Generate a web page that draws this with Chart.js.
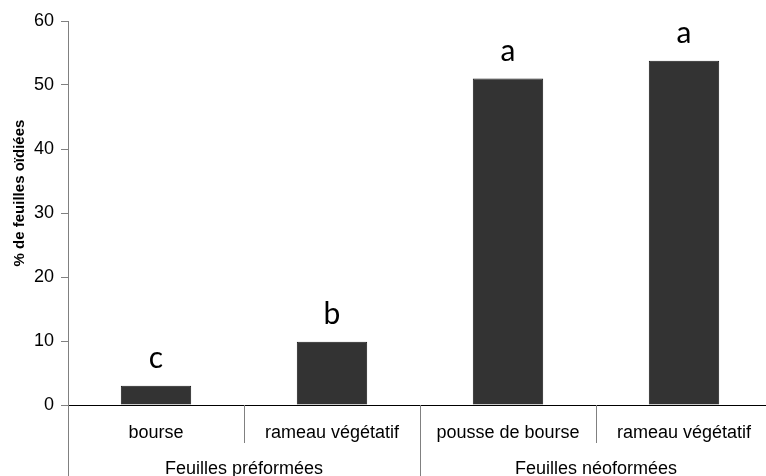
<!DOCTYPE html>
<html>
<head>
<meta charset="utf-8">
<script src="https://cdn.jsdelivr.net/npm/chart.js@4/dist/chart.umd.min.js"></script>
<style>
  html, body { margin: 0; padding: 0; background: #fff; overflow: hidden; }
  #wrap { width: 766px; height: 476px; overflow: hidden; }
  #c { display: block; }
</style>
</head>
<body>
<div id="wrap"><canvas id="c" width="772" height="476"></canvas></div>
<script>
// Leaf types, grouped by leaf origin
const categories = ['bourse', 'rameau végétatif', 'pousse de bourse', 'rameau végétatif'];
const groups = ['Feuilles préformées', 'Feuilles néoformées'];
const groupSizes = [2, 2];
// Percentage of leaves with powdery mildew
const values = [3.0, 9.9, 51.0, 53.8];
// Significance letters above each bar
const letters = ['c', 'b', 'a', 'a'];
const yTicks = [0, 10, 20, 30, 40, 50, 60];
const yTitle = '% de feuilles oïdiées';

const labelFont = '"Liberation Sans", Arial, sans-serif';

// Draws the letters, the category separators, the group labels and the y title
const extras = {
  id: 'extras',
  afterDraw(chart) {
    const ctx = chart.ctx;
    const x = chart.scales.x;
    const area = chart.chartArea;
    const meta = chart.getDatasetMeta(0);

    ctx.save();
    // letters above bars
    ctx.fillStyle = '#000';
    ctx.font = '30px Lato, "Open Sans", sans-serif';
    ctx.textAlign = 'center';
    ctx.textBaseline = 'alphabetic';
    meta.data.forEach((bar, i) => {
      ctx.fillText(letters[i], bar.x, bar.y - 18);
    });

    // separators between categories and groups
    const n = categories.length;
    const boundary = i => {
      if (i <= 0) return x.left;
      if (i >= n) return x.right;
      return (x.getPixelForValue(i - 1) + x.getPixelForValue(i)) / 2;
    };
    const groupEdges = [0];
    groupSizes.forEach(s => groupEdges.push(groupEdges[groupEdges.length - 1] + s));
    ctx.strokeStyle = '#808080';
    ctx.lineWidth = 1;
    for (let i = 0; i <= n; i++) {
      const px = Math.round(boundary(i)) + 0.5;
      const isGroup = groupEdges.includes(i);
      ctx.beginPath();
      ctx.moveTo(px, area.bottom);
      ctx.lineTo(px, isGroup ? chart.height : area.bottom + 38);
      ctx.stroke();
    }

    // group labels
    ctx.font = '18px ' + labelFont;
    ctx.textBaseline = 'middle';
    groups.forEach((g, k) => {
      const cx = (boundary(groupEdges[k]) + boundary(groupEdges[k + 1])) / 2;
      ctx.fillText(g, cx, area.bottom + 64);
    });

    // y axis title
    ctx.font = 'bold 15px ' + labelFont;
    ctx.translate(20, area.top + (area.bottom - area.top) * 0.448);
    ctx.rotate(-Math.PI / 2);
    ctx.fillText(yTitle, 0, 0);
    ctx.restore();
  }
};

new Chart(document.getElementById('c'), {
  type: 'bar',
  data: {
    labels: categories,
    datasets: [{
      data: values,
      backgroundColor: '#333333',
      borderColor: '#1a1a1a',
      borderWidth: 1,
      barPercentage: 0.4,
      categoryPercentage: 1.0
    }]
  },
  options: {
    responsive: false,
    animation: false,
    devicePixelRatio: 1,
    layout: { padding: { top: 21, right: 0, left: 0, bottom: 0 } },
    plugins: { legend: { display: false }, tooltip: { enabled: false } },
    scales: {
      x: {
        grid: { display: true, drawOnChartArea: false, drawTicks: false },
        border: { color: '#000', width: 1 },
        ticks: {
          color: '#000',
          font: { family: labelFont, size: 18 },
          padding: 17,
          maxRotation: 0,
          autoSkip: false
        },
        afterFit(scale) { scale.height = 71; }
      },
      y: {
        min: 0,
        max: 60,
        afterBuildTicks(scale) { scale.ticks = yTicks.map(v => ({ value: v })); },
        grid: { display: true, drawOnChartArea: false, tickLength: 7, color: '#808080' },
        border: { color: '#808080', width: 1 },
        ticks: {
          color: '#000',
          font: { family: labelFont, size: 18 },
          padding: 7
        },
        afterFit(scale) { scale.width = 68; }
      }
    }
  },
  plugins: [extras]
});
</script>
</body>
</html>
